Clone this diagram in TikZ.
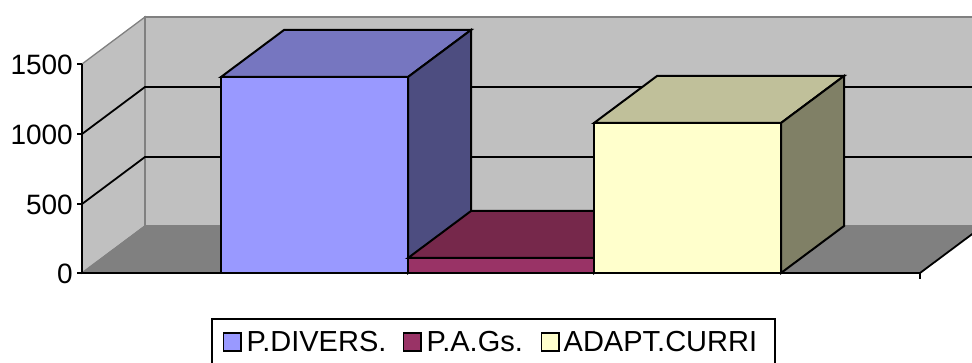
\documentclass[tikz,border=0pt]{standalone}
\usepackage{fontspec}
\setmainfont{Liberation Sans}
\usetikzlibrary{positioning}

\definecolor{wallgray}{HTML}{C0C0C0}
\definecolor{floorgray}{HTML}{808080}
\definecolor{diversfront}{HTML}{9999FF}
\definecolor{diverstop}{HTML}{7676C0}
\definecolor{diversside}{HTML}{4D4D80}
\definecolor{agsfront}{HTML}{993366}
\definecolor{agstop}{HTML}{76284B}
\definecolor{agsside}{HTML}{4D1A33}
\definecolor{currifront}{HTML}{FFFFCC}
\definecolor{curritop}{HTML}{C0C09A}
\definecolor{curriside}{HTML}{808066}

\begin{document}
\begin{tikzpicture}[x=1pt,y=-1pt,
    wall/.style={fill=wallgray,draw=floorgray,line width=1.3pt},
    gridline/.style={black,line width=1.8pt},
    face/.style={draw=black,line width=2pt,line join=miter},
    ticklabel/.style={anchor=east,inner sep=0pt,font=\fontsize{28}{30}\selectfont},
    keybox/.style={draw=black,line width=1.5pt,minimum size=17.5pt,inner sep=0pt},
    keytext/.style={inner sep=0pt,font=\fontsize{29}{31}\selectfont}]

     \useasboundingbox (0,0) rectangle (972,363);
     \clip (0,0) rectangle (972,363);

     %Walls and floor
     \draw[wall] (82,273) -- (82,64) -- (145,17) -- (145,226) -- cycle;
     \draw[wall] (145,226) -- (145,17) -- (990,17) -- (990,226) -- cycle;
     \fill[floorgray] (82,273) -- (145,226) -- (983,226) -- (920,273) -- cycle;
     \draw[floorgray,line width=1.3pt] (82,273) -- (145,226) -- (990,226);
     \draw[black,line width=1.8pt] (920,273) -- (983,226);

     %Grid lines
     \draw[gridline] (82,204) -- (145,157) -- (990,157);
     \draw[gridline] (82,134) -- (145,87) -- (990,87);

     %Axis
     \draw[black,line width=1.8pt] (82,64) -- (82,273) -- (920,273) -- (920,279);
     \draw[black,line width=1.8pt] (77,64) -- (82,64);
     \draw[black,line width=1.8pt] (77,134) -- (82,134);
     \draw[black,line width=1.8pt] (77,204) -- (82,204);
     \draw[black,line width=1.8pt] (77,273) -- (82,273);
     \node[ticklabel] (l1500) at (73,65) {1500};
     \node[ticklabel] (l1000) at (73,135) {1000};
     \node[ticklabel] (l500)  at (73,205) {500};
     \node[ticklabel] (l0)    at (73,274) {0};

     %Bar P.DIVERS.
     \draw[face,fill=diversfront] (221,77) rectangle (408,273);
     \draw[face,fill=diverstop]   (221,77) -- (284,30) -- (471,30) -- (408,77) -- cycle;
     \draw[face,fill=diversside]  (408,77) -- (471,30) -- (471,226) -- (408,273) -- cycle;

     %Bar P.A.Gs.
     \draw[face,fill=agsfront] (408,258) rectangle (594,273);
     \draw[face,fill=agstop]   (408,258) -- (471,211) -- (657,211) -- (594,258) -- cycle;
     \draw[face,fill=agsside]  (594,258) -- (657,211) -- (657,226) -- (594,273) -- cycle;

     %Bar ADAPT.CURRI
     \draw[face,fill=currifront] (594,123) rectangle (781,273);
     \draw[face,fill=curritop]   (594,123) -- (657,76) -- (844,76) -- (781,123) -- cycle;
     \draw[face,fill=curriside]  (781,123) -- (844,76) -- (844,226) -- (781,273) -- cycle;

     %Legend
     \draw[black,line width=1.6pt] (212,370) -- (212,319) -- (775,319) -- (775,370);
     \node[keybox,fill=diversfront] (k1) at (232,342) {};
     \node[keytext,right=5pt of k1] (t1) {P.DIVERS.};
     \node[keybox,fill=agsfront] (k2) at (412,342) {};
     \node[keytext,right=5pt of k2] (t2) {P.A.Gs.};
     \node[keybox,fill=currifront] (k3) at (550,342) {};
     \node[keytext,right=4pt of k3] (t3) {ADAPT.CURRI};

    \end{tikzpicture}
\end{document}
